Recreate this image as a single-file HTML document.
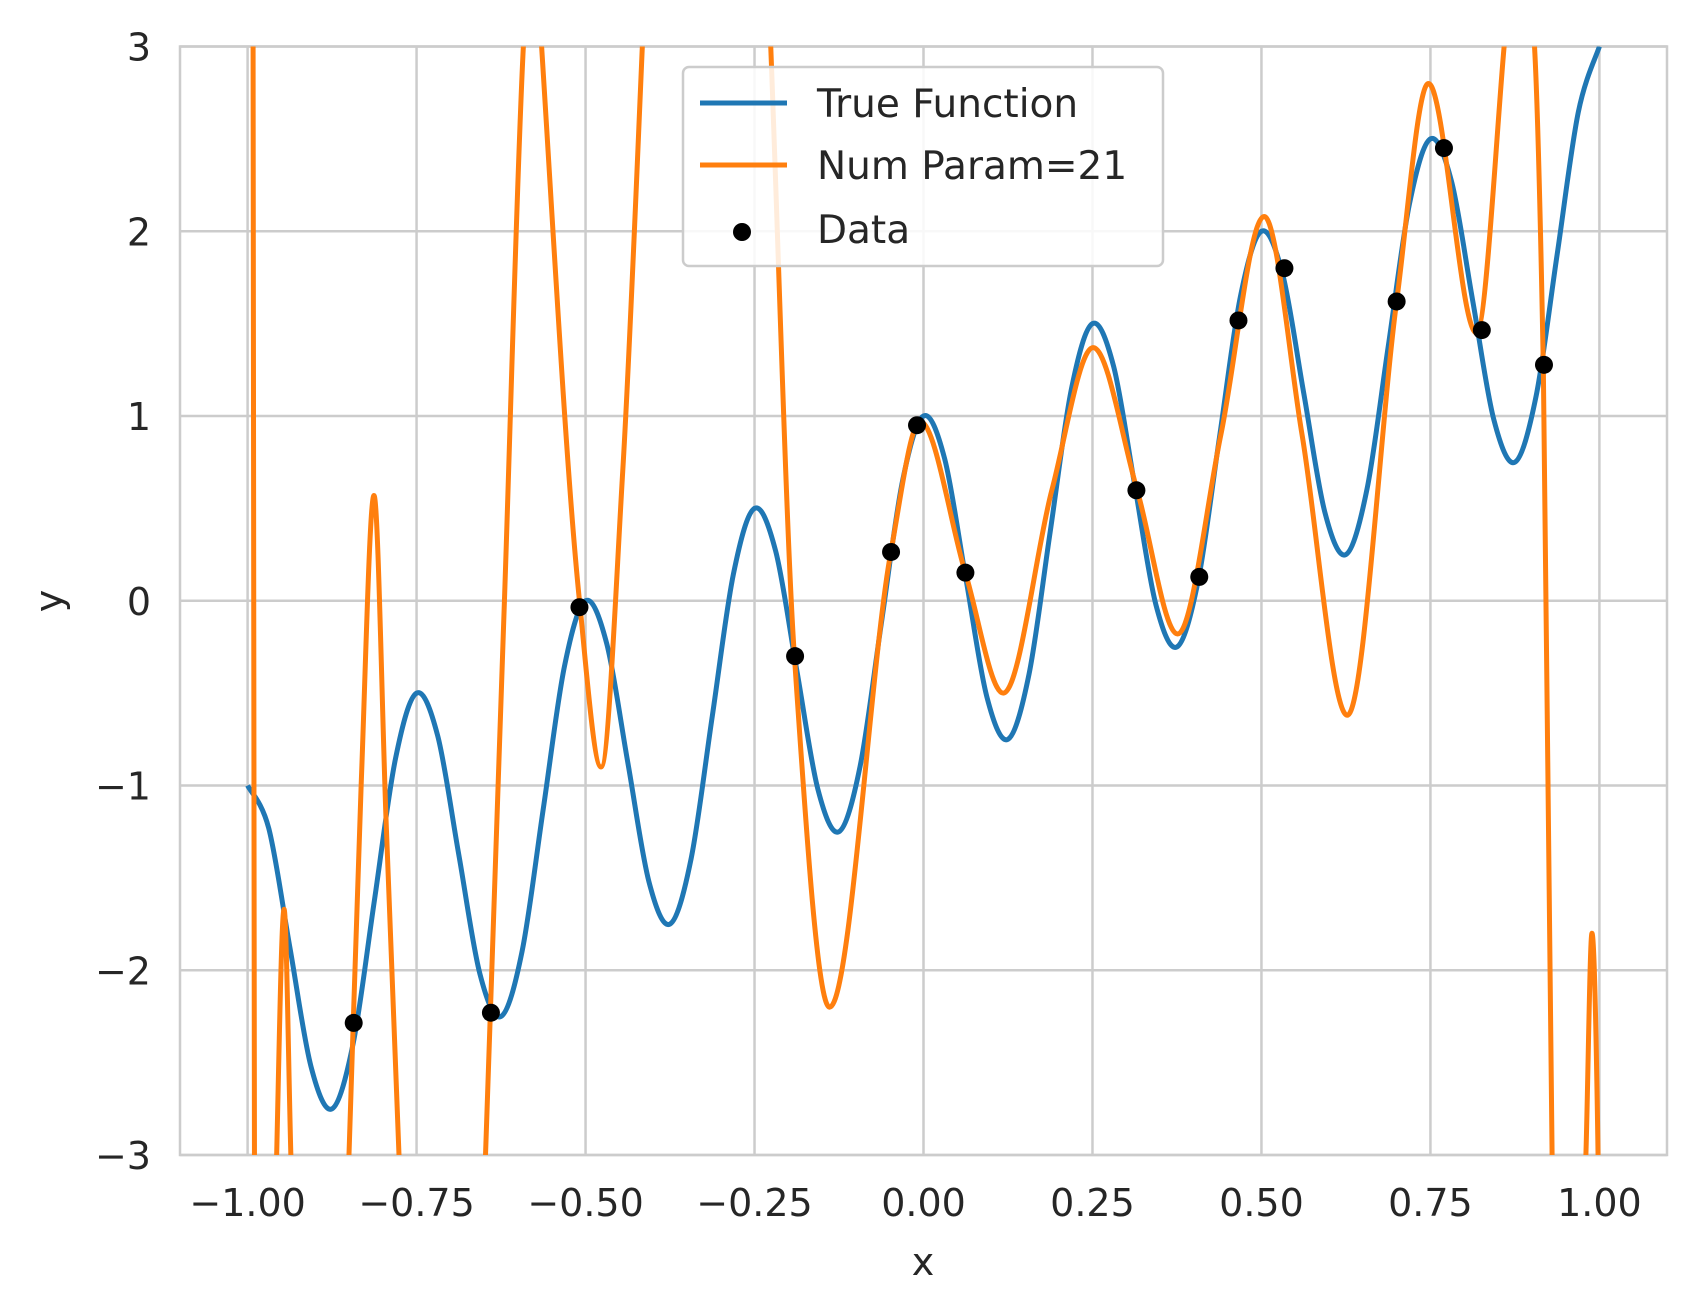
<!DOCTYPE html>
<html><head><meta charset="utf-8"><style>
html,body{margin:0;padding:0;background:#fff;overflow:hidden;width:1697px;height:1315px;}
svg{display:block;}
svg text{font-family:"DejaVu Sans","Liberation Sans",sans-serif;fill:#262626;}
</style></head><body>
<svg id="chart" width="1697" height="1315" viewBox="0 0 1697 1315" xmlns="http://www.w3.org/2000/svg">
<defs><clipPath id="plotclip"><rect x="180" y="46.5" width="1487" height="1108.5"/></clipPath></defs>
<g id="grid"></g>
<g id="ticks"></g>
<g id="series" clip-path="url(#plotclip)"></g>
<text x="923" y="1275" font-size="38" text-anchor="middle">x</text>
<text x="0" y="0" font-size="38" text-anchor="middle" transform="translate(62,601) rotate(-90)">y</text>
<g>
<rect x="683" y="67" width="480" height="199" rx="6" fill="#fff" fill-opacity="0.85" stroke="#cccccc" stroke-width="2.5"/>
<g><line x1="700" y1="103" x2="787" y2="103" stroke="#1f77b4" stroke-width="5"/><text x="817" y="117" font-size="39">True Function</text></g>
<g><line x1="700" y1="165" x2="787" y2="165" stroke="#ff7f0e" stroke-width="5"/><text x="817" y="179" font-size="39">Num Param=21</text></g>
<g><circle cx="742" cy="232" r="9" fill="#000"/><text x="817" y="243" font-size="39">Data</text></g>
</g>
</svg>
<script>
const xTicks=[-1,-0.75,-0.5,-0.25,0,0.25,0.5,0.75,1];
const xTickLabels=["\u22121.00","\u22120.75","\u22120.50","\u22120.25","0.00","0.25","0.50","0.75","1.00"];
const yTicks=[-3,-2,-1,0,1,2,3];
const yTickLabels=["\u22123","\u22122","\u22121","0","1","2","3"];
const trueY=[-1,-1.231,-1.875,-2.520,-2.75,-2.395,-1.625,-0.856,-0.5,-0.731,-1.375,-2.020,-2.25,-1.895,-1.125,-0.356,0,-0.231,-0.875,-1.520,-1.75,-1.395,-0.625,0.144,0.5,0.269,-0.375,-1.020,-1.25,-0.895,-0.125,0.644,1,0.769,0.125,-0.520,-0.75,-0.395,0.375,1.144,1.5,1.269,0.625,-0.020,-0.25,0.106,0.875,1.644,2,1.769,1.125,0.480,0.25,0.606,1.375,2.144,2.5,2.269,1.625,0.981,0.75,1.106,1.875,2.644,3];
const trueXStart=-1, trueXStep=1/32;
const fitX=[-1,-0.985,-0.957,-0.946,-0.936,-0.9,-0.85,-0.832,-0.813,-0.795,-0.776,-0.71,-0.648,-0.62,-0.592,-0.578,-0.565,-0.509,-0.477,-0.445,-0.416,-0.32,-0.226,-0.191,-0.139,-0.048,-0.005,0.062,0.118,0.19,0.251,0.316,0.376,0.44,0.504,0.56,0.627,0.7,0.747,0.818,0.859,0.88,0.904,0.917,0.93,0.95,0.98,0.989,0.998,1];
const fitY=[30,-10,-3,-1.67,-3,-8,-3,-1.0,0.57,-1.2,-3,-10,-3,0,3,3.8,3,0,-0.9,0.7,3,12,3,-0.3,-2.2,0.27,0.97,0.15,-0.5,0.6,1.37,0.6,-0.18,0.9,2.08,0.9,-0.62,1.62,2.8,1.45,3,4,3,1.27,-3,-6,-3,-1.8,-3,-4];
const dataX=[-0.843,-0.64,-0.509,-0.19,-0.048,-0.0096,0.062,0.315,0.408,0.466,0.534,0.70,0.77,0.826,0.918];
const dataY=[-2.285,-2.23,-0.035,-0.30,0.264,0.95,0.152,0.598,0.129,1.517,1.80,1.62,2.45,1.465,1.277];

const L=180,R=1667,T=46.5,B=1155,XMIN=-1.1,XMAX=1.1,YMIN=-3,YMAX=3;
const sx=v=>L+(v-XMIN)/(XMAX-XMIN)*(R-L);
const sy=v=>B-(v-YMIN)/(YMAX-YMIN)*(B-T);
const NS="http://www.w3.org/2000/svg";
function mk(tag,attrs,parent){const e=document.createElementNS(NS,tag);for(const k in attrs)e.setAttribute(k,attrs[k]);parent.appendChild(e);return e;}
const grid=document.getElementById('grid'),ticks=document.getElementById('ticks'),series=document.getElementById('series');
xTicks.forEach((t,i)=>{
  const g=mk('line',{x1:sx(t),x2:sx(t),y1:T,y2:B,stroke:'#cccccc','stroke-width':2.5},grid);
  
  
  const tx=mk('text',{x:sx(t),y:1216,'font-size':38,'text-anchor':'middle'},ticks);
  tx.textContent=xTickLabels[i];
  
  
});
yTicks.forEach((t,i)=>{
  const g=mk('line',{x1:L,x2:R,y1:sy(t),y2:sy(t),stroke:'#cccccc','stroke-width':2.5},grid);
  
  
  const tx=mk('text',{x:151,y:sy(t)+14,'font-size':38,'text-anchor':'end'},ticks);
  tx.textContent=yTickLabels[i];
  
  
});
const frame=mk('rect',{x:L,y:T,width:R-L,height:B-T,fill:'none',stroke:'#cccccc','stroke-width':2.5},grid);



function monotonePath(xs,ys){
  const n=xs.length,px=xs.map(sx),py=ys.map(sy);
  const d=[],m=new Array(n);
  for(let i=0;i<n-1;i++)d.push((py[i+1]-py[i])/(px[i+1]-px[i]));
  m[0]=d[0];m[n-1]=d[n-2];
  for(let i=1;i<n-1;i++){
    if(d[i-1]*d[i]<=0)m[i]=0;
    else{const h0=px[i]-px[i-1],h1=px[i+1]-px[i];m[i]=3*(h0+h1)/((2*h1+h0)/d[i-1]+(h1+2*h0)/d[i]);}
  }
  let s='M'+px[0]+','+py[0];
  for(let i=0;i<n-1;i++){
    const h=(px[i+1]-px[i])/3;
    s+='C'+(px[i]+h)+','+(py[i]+m[i]*h)+' '+(px[i+1]-h)+','+(py[i+1]-m[i+1]*h)+' '+px[i+1]+','+py[i+1];
  }
  return s;
}
function catmullPath(xs,ys){
  const n=xs.length,px=xs.map(sx),py=ys.map(sy);
  let s='M'+px[0]+','+py[0];
  for(let i=0;i<n-1;i++){
    const x0=i>0?px[i-1]:px[i],y0=i>0?py[i-1]:py[i];
    const x3=i<n-2?px[i+2]:px[i+1],y3=i<n-2?py[i+2]:py[i+1];
    s+='C'+(px[i]+(px[i+1]-x0)/6)+','+(py[i]+(py[i+1]-y0)/6)+' '+(px[i+1]-(x3-px[i])/6)+','+(py[i+1]-(y3-py[i])/6)+' '+px[i+1]+','+py[i+1];
  }
  return s;
}
const trueX=trueY.map((_,k)=>trueXStart+k*trueXStep);
const p1=mk('path',{d:catmullPath(trueX,trueY),fill:'none',stroke:'#1f77b4','stroke-width':5,'stroke-linejoin':'round'},series);


const p2=mk('path',{d:monotonePath(fitX,fitY),fill:'none',stroke:'#ff7f0e','stroke-width':5,'stroke-linejoin':'round'},series);


dataX.forEach((x,i)=>{
  const c=mk('circle',{cx:sx(x),cy:sy(dataY[i]),r:9,fill:'#000'},series);
  
  
});
</script>
</body></html>
